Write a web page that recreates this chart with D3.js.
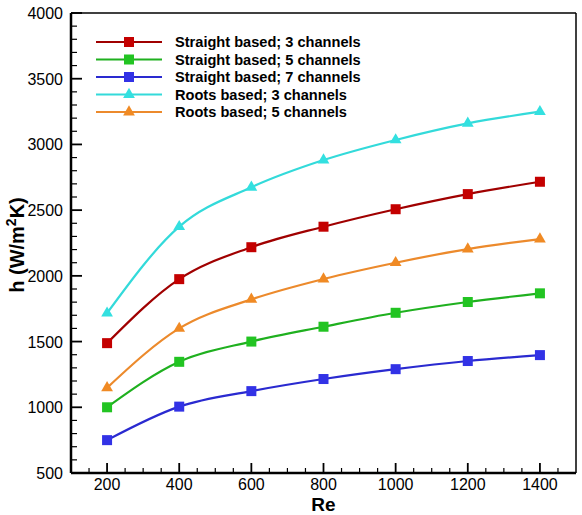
<!DOCTYPE html>
<html>
<head>
<meta charset="utf-8">
<script src="https://cdn.jsdelivr.net/npm/d3@7"></script>
<style>
  body { margin: 0; background: #fff; }
  text { font-family: "Liberation Sans", Arial, sans-serif; }
</style>
</head>
<body>
<script>
// Reynolds numbers on the x axis
const reValues = [200, 400, 600, 800, 1000, 1200, 1400]

// heat transfer coefficient h (W/m2K) for each design
const straight3 = [1488, 1975, 2218, 2374, 2507, 2622, 2716]
const straight5 = [1000, 1346, 1500, 1613, 1719, 1801, 1867]
const straight7 = [750, 1005, 1123, 1215, 1290, 1352, 1397]
const roots3 = [1716, 2374, 2674, 2881, 3034, 3160, 3249]
const roots5 = [1148, 1600, 1821, 1976, 2100, 2204, 2280]

const seriesNames = ["Straight based; 3 channels", "Straight based; 5 channels",
  "Straight based; 7 channels", "Roots based; 3 channels", "Roots based; 5 channels"]
const seriesColors = ["#c40000", "#22c422", "#3232e6", "#33e0e0", "#f08a24"]
const lineColors = ["#a00000", "#1fb01f", "#2a2ad0", "#33dada", "#ec8a2c"]
const seriesShapes = ["square", "square", "square", "triangle", "triangle"]

const xTicks = [200, 400, 600, 800, 1000, 1200, 1400]
const yTicks = [500, 1000, 1500, 2000, 2500, 3000, 3500, 4000]

const allSeries = [straight3, straight5, straight7, roots3, roots5]

const margin = { top: 13, right: 6, bottom: 42, left: 71 },
  width = 582 - margin.left - margin.right,
  height = 515 - margin.top - margin.bottom

const svg = d3.select("body").append("svg")
  .attr("width", 582)
  .attr("height", 515)

const g = svg.append("g")
  .attr("transform", "translate(" + margin.left + "," + margin.top + ")")

const x = d3.scaleLinear().domain([100, 1500]).range([0, width])
const y = d3.scaleLinear().domain([500, 4000]).range([height, 0])

// minor ticks (inward)
g.selectAll(".xminor").data(d3.range(150, 1500, 50).filter(v => v % 200 != 0))
  .enter().append("line")
  .attr("x1", d => x(d)).attr("x2", d => x(d))
  .attr("y1", height).attr("y2", height - 5)
  .attr("stroke", "#000").attr("stroke-width", 1.2)

g.selectAll(".yminor").data(d3.range(600, 4000, 100).filter(v => v % 500 != 0))
  .enter().append("line")
  .attr("x1", 0).attr("x2", 6)
  .attr("y1", d => y(d)).attr("y2", d => y(d))
  .attr("stroke", "#000").attr("stroke-width", 1.2)

// major ticks
g.selectAll(".xmajor").data(xTicks).enter().append("line")
  .attr("x1", d => x(d)).attr("x2", d => x(d))
  .attr("y1", height).attr("y2", height - 10)
  .attr("stroke", "#000").attr("stroke-width", 1.8)

g.selectAll(".ymajor").data(yTicks).enter().append("line")
  .attr("x1", 0).attr("x2", 11)
  .attr("y1", d => y(d)).attr("y2", d => y(d))
  .attr("stroke", "#000").attr("stroke-width", 1.8)

// tick labels
g.selectAll(".xlab").data(xTicks).enter().append("text")
  .attr("x", d => x(d)).attr("y", height + 17)
  .attr("text-anchor", "middle")
  .attr("font-size", 16)
  .text(d => d)

g.selectAll(".ylab").data(yTicks).enter().append("text")
  .attr("x", -8).attr("y", d => y(d) + 6)
  .attr("text-anchor", "end")
  .attr("font-size", 16)
  .text(d => d)

// frame
g.append("line").attr("x1", 0).attr("x2", width).attr("y1", 0).attr("y2", 0)
  .attr("stroke", "#000").attr("stroke-width", 1.5)
g.append("line").attr("x1", width).attr("x2", width).attr("y1", 0).attr("y2", height)
  .attr("stroke", "#000").attr("stroke-width", 1.5)
g.append("line").attr("x1", 0).attr("x2", width).attr("y1", height).attr("y2", height)
  .attr("stroke", "#000").attr("stroke-width", 2.5)
g.append("line").attr("x1", 0).attr("x2", 0).attr("y1", 0).attr("y2", height)
  .attr("stroke", "#000").attr("stroke-width", 2.5)

// axis titles
svg.append("text")
  .attr("x", margin.left + x(800)).attr("y", 510.5)
  .attr("text-anchor", "middle")
  .attr("font-size", 19).attr("font-weight", "bold")
  .text("Re")

const yTitle = svg.append("text")
  .attr("transform", "translate(24,245) rotate(-90)")
  .attr("text-anchor", "middle")
  .attr("font-size", 20).attr("font-weight", "bold")
yTitle.append("tspan").text("h (W/m")
yTitle.append("tspan").attr("dy", -8).attr("font-size", 14).text("2")
yTitle.append("tspan").attr("dy", 8).text("K)")

const line = d3.line()
  .x((d, i) => x(reValues[i]))
  .y(d => y(d))
  .curve(d3.curveMonotoneX)

function drawMarker(sel, shape, color) {
  if (shape == "square") {
    sel.append("rect")
      .attr("x", -5).attr("y", -5).attr("width", 10).attr("height", 10)
      .attr("fill", color)
  } else {
    sel.append("path")
      .attr("d", d3.symbol().type(d3.symbolTriangle).size(60))
      .attr("fill", color)
  }
}

allSeries.forEach((vals, s) => {
  g.append("path")
    .datum(vals)
    .attr("fill", "none")
    .attr("stroke", lineColors[s])
    .attr("stroke-width", 2.2)
    .attr("d", line)

  g.selectAll(".m" + s).data(vals).enter().append("g")
    .attr("transform", (d, i) => "translate(" + x(reValues[i]) + "," + y(d) + ")")
    .each(function() { drawMarker(d3.select(this), seriesShapes[s], seriesColors[s]) })
})

// legend
const legend = svg.append("g")
seriesNames.forEach((name, s) => {
  const ly = 42 + s * 17.5
  legend.append("line")
    .attr("x1", 96).attr("x2", 162).attr("y1", ly).attr("y2", ly)
    .attr("stroke", lineColors[s]).attr("stroke-width", 2.2)
  const m = legend.append("g").attr("transform", "translate(129," + ly + ")")
  drawMarker(m, seriesShapes[s], seriesColors[s])
  legend.append("text")
    .attr("x", 175).attr("y", ly + 5)
    .attr("font-size", 14.6).attr("font-weight", "bold")
    .text(name)
})
</script>
</body>
</html>
